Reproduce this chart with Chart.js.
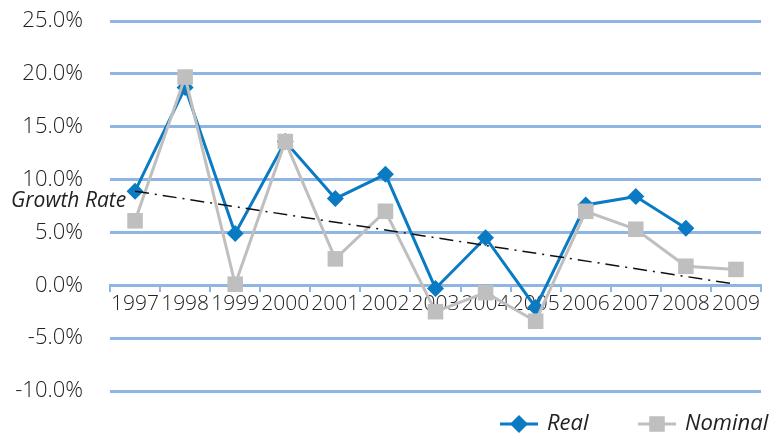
<!DOCTYPE html>
<html>
<head>
<meta charset="utf-8">
<script src="https://cdn.jsdelivr.net/npm/chart.js@4/dist/chart.umd.min.js"></script>
<style>
  html, body { margin: 0; padding: 0; background: #fff; }
  #wrap { width: 772px; height: 437px; position: relative; }
</style>
</head>
<body>
<div id="wrap"><canvas id="growth"></canvas></div>
<script>
var years = ['1997', '1998', '1999', '2000', '2001', '2002', '2003', '2004', '2005', '2006', '2007', '2008', '2009'];
var realRate = [8.9, 18.7, 4.9, 13.6, 8.2, 10.5, -0.3, 4.5, -2.1, 7.6, 8.4, 5.4, null];
var nominalRate = [6.1, 19.7, 0.1, 13.6, 2.5, 7.0, -2.5, -0.7, -3.4, 7.0, 5.3, 1.8, 1.5];
// trend line, only the two ends
var trendRate = [8.9, null, null, null, null, null, null, null, null, null, null, null, 0.1];
var yTicks = [-10, -5, 0, 5, 10, 15, 20, 25];

var blue = '#0a7bc2';
var grey = '#bfbfbf';
var gridBlue = '#8fb5e3';
var txt = '#222222';
var fontFam = '"Open Sans", "DejaVu Sans", sans-serif';

// legend + side label drawn by hand (line with marker in middle)
var extras = {
  id: 'extras',
  afterDraw: function(chart) {
    var ctx = chart.ctx;
    ctx.save();
    ctx.fillStyle = '#222';
    ctx.font = 'italic 21px ' + fontFam;
    ctx.textBaseline = 'middle';
    ctx.textAlign = 'left';
    ctx.fillText('Growth Rate', 11, 201);

    var items = [
      { label: 'Real', color: blue, style: 'rectRot', r: 9, x: 500 },
      { label: 'Nominal', color: grey, style: 'rect', r: 11, x: 638 }
    ];
    var ly = 424;
    items.forEach(function(it) {
      ctx.strokeStyle = it.color;
      ctx.lineWidth = 3;
      ctx.beginPath();
      ctx.moveTo(it.x, ly);
      ctx.lineTo(it.x + 38, ly);
      ctx.stroke();
      ctx.fillStyle = it.color;
      Chart.helpers.drawPoint(ctx, { pointStyle: it.style, radius: it.r, borderWidth: 0 }, it.x + 19, ly);
      ctx.fillStyle = '#222';
      ctx.font = 'italic 22px ' + fontFam;
      ctx.fillText(it.label, it.x + 47, ly);
    });
    ctx.restore();
  }
};

new Chart(document.getElementById('growth'), {
  type: 'line',
  data: {
    labels: years,
    datasets: [{
      label: 'Trend',
      data: trendRate,
      borderColor: '#111',
      borderWidth: 1.5,
      borderDash: [14, 6, 2, 6],
      pointRadius: 0,
      spanGaps: true,
      order: -1
    }, {
      label: 'Nominal',
      data: nominalRate,
      borderColor: grey,
      backgroundColor: grey,
      borderWidth: 3,
      pointStyle: 'rect',
      pointRadius: 11,
      pointBorderWidth: 0,
      order: 0
    }, {
      label: 'Real',
      data: realRate,
      borderColor: blue,
      backgroundColor: blue,
      borderWidth: 3,
      pointStyle: 'rectRot',
      pointRadius: 8.5,
      pointBorderWidth: 0,
      order: 1
    }]
  },
  options: {
    responsive: true,
    maintainAspectRatio: false,
    animation: false,
    events: [],
    layout: { padding: { left: 0, right: 7, top: 21, bottom: 46 } },
    plugins: {
      legend: { display: false },
      tooltip: { enabled: false }
    },
    scales: {
      x: {
        type: 'category',
        position: { y: 0 },
        offset: true,
        afterFit: function(axis) { axis.height = 0; },
        grid: {
          offset: true,
          drawOnChartArea: false,
          drawTicks: true,
          tickLength: 5,
          color: gridBlue,
          lineWidth: 2
        },
        border: { display: true, color: gridBlue, width: 3 },
        ticks: {
          autoSkip: false,
          maxRotation: 0,
          minRotation: 0,
          padding: 1,
          color: txt,
          font: { family: fontFam, size: 21, weight: 300 }
        }
      },
      y: {
        min: -10,
        max: 25,
        afterBuildTicks: function(axis) {
          axis.ticks = yTicks.map(function(v) { return { value: v }; });
        },
        afterFit: function(axis) { axis.width = 110; },
        // invisible tick marks keep the labels away from the plot
        grid: { color: gridBlue, lineWidth: 3, drawTicks: true, tickLength: 27, tickColor: 'rgba(0,0,0,0)' },
        border: { display: false },
        ticks: {
          padding: 0,
          color: txt,
          font: { family: fontFam, size: 22, weight: 300 },
          callback: function(v) { return v.toFixed(1) + '%'; }
        }
      }
    }
  },
  plugins: [extras]
});
</script>
</body>
</html>
